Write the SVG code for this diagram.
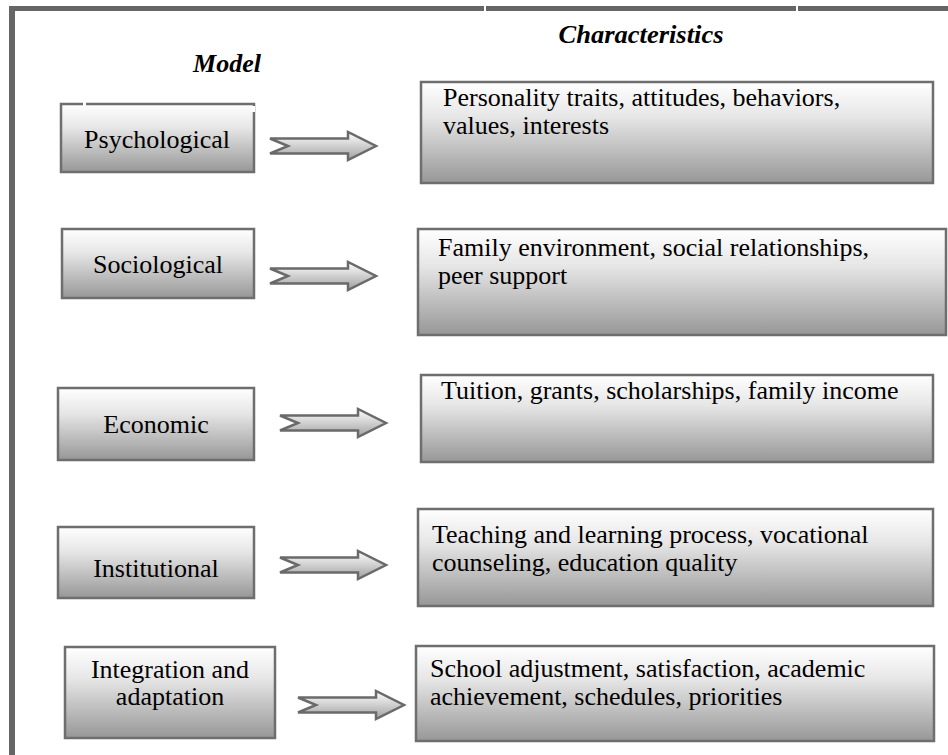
<svg xmlns="http://www.w3.org/2000/svg" width="948" height="755" viewBox="0 0 948 755">
  <style>
    .box { stroke: #6e6e6e; stroke-width: 2.5; fill: url(#boxFill); }
    .lbl { font-family: "Liberation Serif", "Times New Roman", serif; font-size: 26px; fill: #000; }
    .hdr { font-family: "Liberation Serif", "Times New Roman", serif; font-size: 26px; font-weight: bold; font-style: italic; fill: #000; }
    .arrow { fill: url(#arrowFill); stroke: #6a6a6a; stroke-width: 2.5; stroke-linejoin: miter; }
  </style>
  <defs>
    <linearGradient id="boxFill" x1="0" y1="0" x2="0" y2="1">
      <stop offset="0" stop-color="#ffffff"/>
      <stop offset="0.35" stop-color="#e6e6e6"/>
      <stop offset="1" stop-color="#979797"/>
    </linearGradient>
    <linearGradient id="arrowFill" x1="0" y1="0" x2="0" y2="1">
      <stop offset="0" stop-color="#ffffff"/>
      <stop offset="1" stop-color="#a0a0a0"/>
    </linearGradient>
    <!-- block arrow with notched tail, origin at tail/centre line -->
    <path id="blockArrow" class="arrow" d="M0,-7.5 H78 V-14 L106,0 L78,14 V7.5 H0 L18,0 Z"/>
  </defs>

  <!-- page frame -->
  <g id="frame">
    <rect x="9" y="6" width="939" height="5" fill="#666"/>
    <rect x="9" y="6" width="6" height="749" fill="#666"/>
    <rect x="484" y="5" width="2" height="7" fill="#fff"/>
    <rect x="796" y="5" width="2" height="7" fill="#fff"/>
  </g>

  <!-- column headings -->
  <g id="headings">
    <text class="hdr" x="641" y="43" text-anchor="middle" font-size="28" textLength="165" lengthAdjust="spacingAndGlyphs">Characteristics</text>
    <text class="hdr" x="227" y="72" text-anchor="middle">Model</text>
  </g>

  <!-- model boxes -->
  <g id="psychological">
    <rect class="box" x="61" y="104" width="193" height="68"/>
    <rect x="83" y="102" width="3" height="4" fill="#fff"/>
    <rect x="251" y="106" width="4" height="6" fill="#fff"/>
    <text class="lbl" x="157" y="148" text-anchor="middle">Psychological</text>
  </g>
  <g id="sociological">
    <rect class="box" x="62" y="229" width="192" height="69"/>
    <text class="lbl" x="158" y="273" text-anchor="middle">Sociological</text>
  </g>
  <g id="economic">
    <rect class="box" x="58" y="388" width="196" height="72"/>
    <text class="lbl" x="156" y="433" text-anchor="middle">Economic</text>
  </g>
  <g id="institutional">
    <rect class="box" x="58" y="527" width="196" height="71"/>
    <text class="lbl" x="156" y="577" text-anchor="middle">Institutional</text>
  </g>
  <g id="integration">
    <rect class="box" x="65" y="647" width="210" height="91"/>
    <text class="lbl" x="170" y="678" text-anchor="middle">Integration and</text>
    <text class="lbl" x="170" y="705" text-anchor="middle">adaptation</text>
  </g>

  <!-- characteristic boxes -->
  <g id="personality">
    <rect class="box" x="421" y="82" width="512" height="101"/>
    <text class="lbl" x="443" y="106">Personality traits, attitudes, behaviors,</text>
    <text class="lbl" x="443" y="134">values, interests</text>
  </g>
  <g id="family">
    <rect class="box" x="418" y="229" width="528" height="106"/>
    <text class="lbl" x="438" y="256">Family environment, social relationships,</text>
    <text class="lbl" x="438" y="284">peer support</text>
  </g>
  <g id="tuition">
    <rect class="box" x="421" y="375" width="512" height="87"/>
    <text class="lbl" x="441" y="399">Tuition, grants, scholarships, family income</text>
  </g>
  <g id="teaching">
    <rect class="box" x="418" y="509" width="515" height="97"/>
    <text class="lbl" x="432" y="543">Teaching and learning process, vocational</text>
    <text class="lbl" x="432" y="571">counseling, education quality</text>
  </g>
  <g id="school">
    <rect class="box" x="416" y="646" width="518" height="95"/>
    <text class="lbl" x="430" y="677">School adjustment, satisfaction, academic</text>
    <text class="lbl" x="430" y="705">achievement, schedules, priorities</text>
  </g>

  <!-- connectors -->
  <g id="connectors">
    <use href="#blockArrow" x="270" y="146"/>
    <use href="#blockArrow" x="270" y="276"/>
    <use href="#blockArrow" x="280" y="423"/>
    <use href="#blockArrow" x="280" y="565"/>
    <use href="#blockArrow" x="298" y="705"/>
  </g>
</svg>
